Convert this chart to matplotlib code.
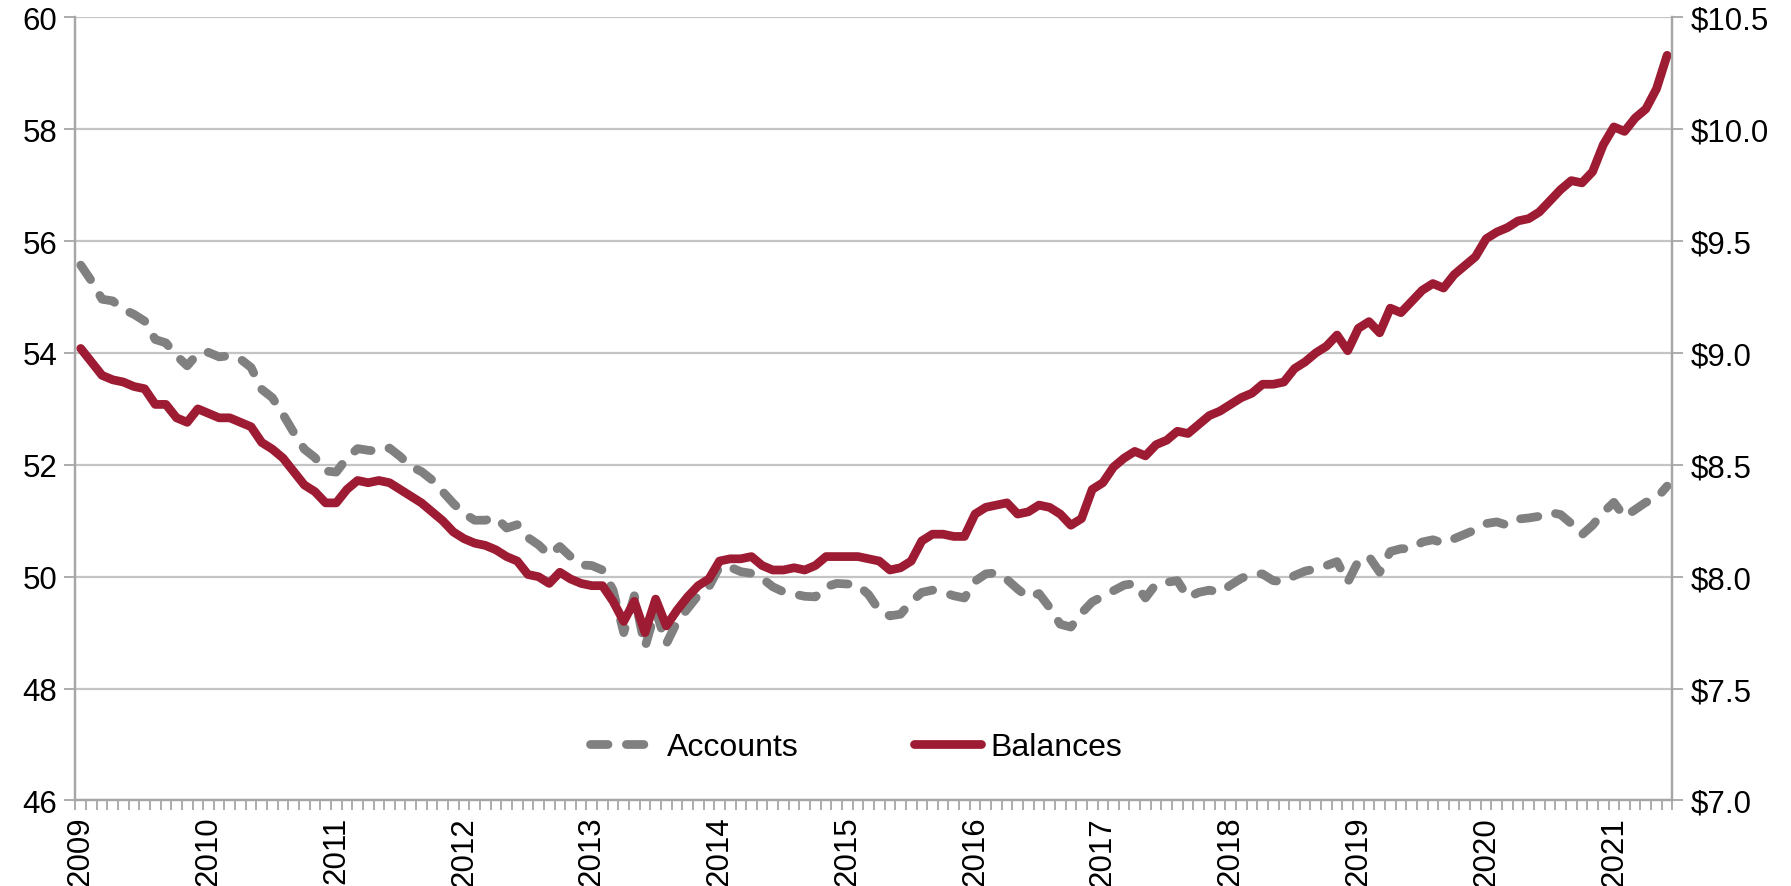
import matplotlib.pyplot as plt
import numpy as np

plt.rcParams["font.family"] = ["Liberation Sans", "DejaVu Sans"]

# monthly series, Jan 2009 .. Jun 2021
accounts = [
    55.57, 55.29, 54.96, 54.93, 54.78, 54.69, 54.57, 54.24, 54.18, 53.95,
    53.77, 53.99, 54.01, 53.93, 53.95, 53.89, 53.74, 53.35, 53.20, 52.90,
    52.58, 52.28, 52.13, 51.89, 51.87, 52.12, 52.29, 52.26, 52.24, 52.30,
    52.15, 51.97, 51.88, 51.73, 51.52, 51.31, 51.13, 51.01, 51.01, 51.06,
    50.87, 50.93, 50.70, 50.57, 50.39, 50.54, 50.36, 50.21, 50.20, 50.12,
    49.76, 49.00, 49.66, 48.74, 49.40, 48.80, 49.19, 49.43, 49.67, 49.82,
    50.18, 50.17, 50.09, 50.06, 49.97, 49.82, 49.73, 49.69, 49.65, 49.64,
    49.82, 49.88, 49.87, 49.85, 49.68, 49.40, 49.30, 49.33, 49.55, 49.72,
    49.76, 49.72, 49.66, 49.62, 49.92, 50.05, 50.07, 49.95, 49.78, 49.63,
    49.70, 49.45, 49.15, 49.10, 49.35, 49.55, 49.65, 49.75, 49.85, 49.88,
    49.62, 49.87, 49.90, 49.93, 49.63, 49.72, 49.76, 49.72, 49.85, 49.97,
    50.05, 50.05, 49.93, 49.91, 50.02, 50.10, 50.14, 50.20, 50.27, 49.90,
    50.28, 50.36, 50.08, 50.45, 50.50, 50.50, 50.62, 50.66, 50.60, 50.68,
    50.76, 50.84, 50.95, 50.98, 50.92, 51.03, 51.05, 51.08, 51.15, 51.11,
    50.95, 50.75, 50.92, 51.15, 51.33, 51.07, 51.20, 51.33, 51.40, 51.62,
]

balances = [
    9.02, 8.96, 8.90, 8.88, 8.87, 8.85, 8.84, 8.77, 8.77, 8.71,
    8.69, 8.75, 8.73, 8.71, 8.71, 8.69, 8.67, 8.60, 8.57, 8.53,
    8.47, 8.41, 8.38, 8.33, 8.33, 8.39, 8.43, 8.42, 8.43, 8.42,
    8.39, 8.36, 8.33, 8.29, 8.25, 8.20, 8.17, 8.15, 8.14, 8.12,
    8.09, 8.07, 8.01, 8.00, 7.97, 8.02, 7.99, 7.97, 7.96, 7.96,
    7.89, 7.80, 7.89, 7.75, 7.90, 7.78, 7.85, 7.91, 7.96, 7.99,
    8.07, 8.08, 8.08, 8.09, 8.05, 8.03, 8.03, 8.04, 8.03, 8.05,
    8.09, 8.09, 8.09, 8.09, 8.08, 8.07, 8.03, 8.04, 8.07, 8.16,
    8.19, 8.19, 8.18, 8.18, 8.28, 8.31, 8.32, 8.33, 8.28, 8.29,
    8.32, 8.31, 8.28, 8.23, 8.26, 8.39, 8.42, 8.49, 8.53, 8.56,
    8.54, 8.59, 8.61, 8.65, 8.64, 8.68, 8.72, 8.74, 8.77, 8.80,
    8.82, 8.86, 8.86, 8.87, 8.93, 8.96, 9.00, 9.03, 9.08, 9.01,
    9.11, 9.14, 9.09, 9.20, 9.18, 9.23, 9.28, 9.31, 9.29, 9.35,
    9.39, 9.43, 9.51, 9.54, 9.56, 9.59, 9.60, 9.63, 9.68, 9.73,
    9.77, 9.76, 9.81, 9.93, 10.01, 9.99, 10.05, 10.09, 10.18, 10.33,
]

years = [str(y) for y in range(2009, 2022)]
left_ticks = [46, 48, 50, 52, 54, 56, 58, 60]
right_ticks = [7.0, 7.5, 8.0, 8.5, 9.0, 9.5, 10.0, 10.5]

RED = "#9D1C33"
GREY = "#808080"
AXIS = "#A6A6A6"
GRID = "#C4C4C4"
FS = 22.5

fig = plt.figure(figsize=(17.91, 8.87), dpi=100)
ax = fig.add_axes([0.0421, 0.0964, 0.8917, 0.883])
ax2 = ax.twinx()

x = np.arange(len(accounts)) + 0.5

acc_line, = ax.plot(x, accounts, color=GREY, lw=6.3, dashes=(2.0, 2.1),
                    dash_capstyle="round", solid_capstyle="round", label="Accounts")
bal_line, = ax2.plot(x, balances, color=RED, lw=6.3, solid_capstyle="round",
                     solid_joinstyle="round", label="Balances")

ax.set_xlim(0, 150)
ax.set_ylim(46, 60)
ax2.set_ylim(7.0, 10.5)

ax.set_yticks(left_ticks)
ax.set_yticklabels([str(t) for t in left_ticks])
ax2.set_yticks(right_ticks)
ax2.set_yticklabels([f"${t:.1f}" for t in right_ticks])

ax.set_xticks(np.arange(0, 12 * len(years), 12) + 0.5)
ax.set_xticklabels(years, rotation=90)
ax.set_xticks(np.arange(0, 151), minor=True)
ax.tick_params(axis="x", which="major", length=0, pad=11, labelsize=FS)
ax.tick_params(axis="x", which="minor", length=7, width=1.3, color=AXIS)
ax.tick_params(axis="y", length=8, width=1.3, color=AXIS, labelsize=FS, pad=5)
ax2.tick_params(axis="y", length=8, width=1.3, color=AXIS, labelsize=FS, pad=5)

ax.grid(axis="y", color=GRID, lw=1.6)
ax.set_axisbelow(True)

for a in (ax, ax2):
    a.spines["top"].set_visible(False)
    for s in ("left", "right", "bottom"):
        a.spines[s].set_color(AXIS)
        a.spines[s].set_linewidth(1.6)

ax.legend([acc_line, bal_line], ["Accounts", "Balances"], loc="center",
          bbox_to_anchor=(0.489, 0.068), ncol=2, frameon=False, fontsize=23,
          handlelength=2.1, handletextpad=0.3, columnspacing=3.6)

fig.savefig("out.png", dpi=100)
